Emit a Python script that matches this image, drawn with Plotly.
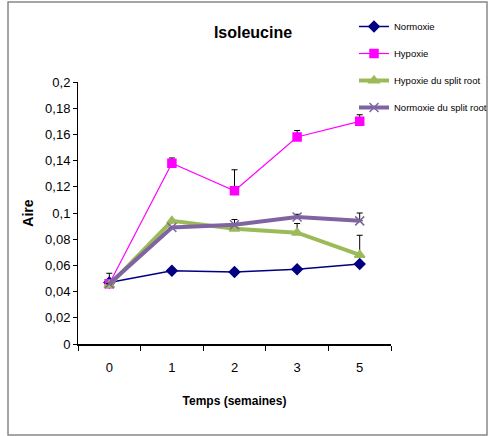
import plotly.graph_objects as go

weeks = ["0", "1", "2", "3", "5"]
normoxie = [0.047, 0.056, 0.055, 0.057, 0.061]
normoxie_err = [0.007, 0.0, 0.0, 0.0, 0.0]
hypoxie = [0.046, 0.138, 0.117, 0.158, 0.170]
hypoxie_err = [0.0, 0.004, 0.016, 0.005, 0.005]
hypoxie_sr = [0.045, 0.094, 0.088, 0.085, 0.068]
hypoxie_sr_err = [0.0, 0.0, 0.0, 0.007, 0.015]
normoxie_sr = [0.046, 0.089, 0.091, 0.097, 0.094]
normoxie_sr_err = [0.0, 0.0, 0.004, 0.002, 0.006]

y_ticks = [0, 0.02, 0.04, 0.06, 0.08, 0.1, 0.12, 0.14, 0.16, 0.18, 0.2]
y_ticktext = ["0", "0,02", "0,04", "0,06", "0,08", "0,1", "0,12", "0,14", "0,16", "0,18", "0,2"]

FONT = "Liberation Sans Narrow, Arial Narrow, Liberation Sans, Arial"

series = [
    ("Normoxie", normoxie, normoxie_err, "#000080", "diamond", 8, 1.5),
    ("Hypoxie", hypoxie, hypoxie_err, "#FF00FF", "square", 8, 1.2),
    ("Hypoxie du split root", hypoxie_sr, hypoxie_sr_err, "#9BBB59", "triangle-up", 9, 4),
    ("Normoxie du split root", normoxie_sr, normoxie_sr_err, "#8064A2", "x-thin", 9, 4),
]

fig = go.Figure()
for i, (name, vals, err, col, sym, size, lw) in enumerate(series):
    fig.add_trace(go.Scatter(
        x=weeks, y=vals, name=name, mode="lines+markers",
        legendgroup=f"g{i}",
        line=dict(color=col, width=lw),
        marker=dict(symbol=sym, size=size, color=col,
                    line=dict(color=col, width=1.5)),
        error_y=dict(type="data", array=err, arrayminus=[0] * len(err),
                     symmetric=False, color="black", thickness=1, width=3),
    ))

fig.update_layout(
    width=499, height=436,
    paper_bgcolor="white", plot_bgcolor="white",
    margin=dict(l=78, r=108, t=82, b=92, autoexpand=False),
    font=dict(family=FONT, size=13, color="black"),
    title=dict(text="<b>Isoleucine</b>", x=253 / 499, xanchor="center",
               y=1 - 32 / 436, yanchor="middle",
               font=dict(family=FONT, size=16, color="black")),
    showlegend=True,
    legend=dict(x=(354 - 78) / 313, y=(344 - 12) / 262, xanchor="left", yanchor="top",
                font=dict(family=FONT, size=9.5, color="black"),
                bgcolor="rgba(0,0,0,0)", tracegroupgap=8,
                traceorder="grouped", itemwidth=30),
    xaxis=dict(
        type="category", range=[-0.5, 4.5],
        showline=True, linecolor="black", linewidth=2,
        ticks="outside", tickson="boundaries", ticklen=5, tickcolor="black",
        ticklabelstandoff=10,
        showgrid=False, zeroline=False,
        tickfont=dict(family=FONT, size=13),
        title=dict(text="<b>Temps (semaines)</b>", standoff=23,
                   font=dict(family=FONT, size=12)),
    ),
    yaxis=dict(
        range=[0, 0.2], tickvals=y_ticks, ticktext=y_ticktext,
        showline=True, linecolor="black", linewidth=1,
        ticks="outside", ticklen=4, tickcolor="black",
        showgrid=False, zeroline=False,
        tickfont=dict(family=FONT, size=13),
        title=dict(text="<b>Aire</b>", standoff=8,
                   font=dict(family="Liberation Sans, Arial", size=14)),
    ),
    shapes=[dict(type="rect", xref="paper", yref="paper",
                 x0=-0.2236, x1=1.3067, y0=-0.347, y1=1.305,
                 line=dict(color="#888888", width=1.5))],
)

fig.write_html("out.html", config={"displayModeBar": False},
               post_script="document.body.style.margin='0px';")
